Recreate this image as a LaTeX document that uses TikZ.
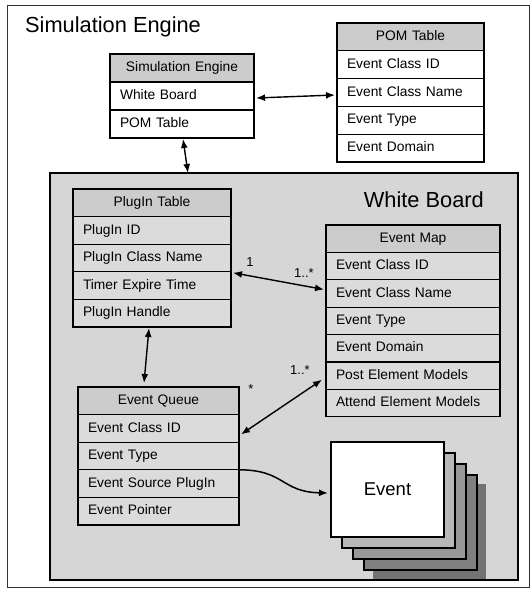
\documentclass[tikz,border=0pt]{standalone}
\usepackage{fontspec}
\setmainfont{Liberation Sans}
\usetikzlibrary{arrows.meta,calc}
\definecolor{wbfill}{gray}{0.84}
\definecolor{hdrfill}{gray}{0.80}
\definecolor{tblfill}{gray}{0.86}
\begin{document}
\begin{tikzpicture}[x=1pt,y=-1pt,
  tbl/.style={draw=black, line width=1.2pt, anchor=north west, outer sep=0pt,
    inner ysep=0pt, inner xsep=10pt, font=\fontsize{13.8}{16}\selectfont,
    text height=10pt, text depth=2.8pt},
  hdr/.style={tbl, fill=hdrfill, align=center},
  rowc/.style={tbl, fill=white, align=left},
  rowg/.style={tbl, fill=tblfill, align=left},
  sew/.style={minimum height=28pt, text width=124pt},
  pomw/.style={minimum height=27.8pt, text width=127pt},
  ptw/.style={minimum height=27.6pt, text width=138pt},
  emw/.style={minimum height=27.4pt, text width=154pt},
  eqw/.style={minimum height=27.6pt, text width=141pt},
  card/.style={draw=black, line width=1.1pt, anchor=north west, outer sep=0pt,
    minimum width=113pt, minimum height=95pt, inner sep=0pt},
  biarrow/.style={{Latex[length=9pt,width=7pt]}-{Latex[length=9pt,width=7pt]}, line width=1.4pt},
  onearrow/.style={-{Latex[length=9pt,width=7pt]}, line width=1.5pt},
  lbl/.style={font=\fontsize{13}{15}\selectfont, inner sep=0pt},
  bigtitle/.style={font=\fontsize{21.8}{26}\selectfont, inner sep=0pt}
]
\useasboundingbox (0,0) rectangle (530,590);
\node[draw=black!80, line width=0.8pt, anchor=north west, outer sep=0pt, inner sep=0pt,
  minimum width=522pt, minimum height=582pt] (frame) at (7,5) {};

\node[bigtitle, anchor=base west] (title) at (25,32) {Simulation Engine};

% Simulation Engine table
\node[hdr, sew] (se-h) at (110,54) {Simulation Engine};
\node[rowc, sew] (se-1) at (se-h.south west) {White Board};
\node[rowc, sew] (se-2) at (se-1.south west) {POM Table};

% POM table
\node[hdr, pomw] (pom-h) at (337,23) {POM Table};
\node[rowc, pomw] (pom-1) at (pom-h.south west) {Event Class ID};
\node[rowc, pomw] (pom-2) at (pom-1.south west) {Event Class Name};
\node[rowc, pomw] (pom-3) at (pom-2.south west) {Event Type};
\node[rowc, pomw] (pom-4) at (pom-3.south west) {Event Domain};

% White Board
\node[draw=black, line width=1.3pt, fill=wbfill, anchor=north west, outer sep=0pt,
  inner sep=0pt, minimum width=468pt, minimum height=407pt] (wb) at (50,173) {};
\node[bigtitle, anchor=base east] (wbtitle) at (484,207) {White Board};

% PlugIn table
\node[hdr, ptw] (pt-h) at (73,189) {PlugIn Table};
\node[rowg, ptw] (pt-1) at (pt-h.south west) {PlugIn ID};
\node[rowg, ptw] (pt-2) at (pt-1.south west) {PlugIn Class Name};
\node[rowg, ptw] (pt-3) at (pt-2.south west) {Timer Expire Time};
\node[rowg, ptw] (pt-4) at (pt-3.south west) {PlugIn Handle};

% Event Map
\node[hdr, emw] (em-h) at (326,225) {Event Map};
\node[rowg, emw] (em-1) at (em-h.south west) {Event Class ID};
\node[rowg, emw] (em-2) at (em-1.south west) {Event Class Name};
\node[rowg, emw] (em-3) at (em-2.south west) {Event Type};
\node[rowg, emw] (em-4) at (em-3.south west) {Event Domain};
\node[rowg, emw] (em-5) at (em-4.south west) {Post Element Models};
\node[rowg, emw] (em-6) at (em-5.south west) {Attend Element Models};

% Event Queue
\node[hdr, eqw] (eq-h) at (78,387) {Event Queue};
\node[rowg, eqw] (eq-1) at (eq-h.south west) {Event Class ID};
\node[rowg, eqw] (eq-2) at (eq-1.south west) {Event Type};
\node[rowg, eqw] (eq-3) at (eq-2.south west) {Event Source PlugIn};
\node[rowg, eqw] (eq-4) at (eq-3.south west) {Event Pointer};

% Event stack
\node[card, draw=none, fill=black!55] (evs) at (373,484) {};
\node[card, fill=black!50] (ev3) at (364,475) {};
\node[card, fill=black!40] (ev2) at (353,464) {};
\node[card, fill=black!28] (ev1) at (342,453) {};
\node[card, fill=white, font=\fontsize{18.5}{22}\selectfont] (ev) at (331,442) {Event};

% Connectors
\draw[biarrow] ($(se-1.east)+(2,2)$) -- ($(pom-2.west)+(-2,2.5)$);
\draw[biarrow] ($(se-2.south)+(1,1)$) -- ($(wb.north west)+(138,0)$);
\draw[biarrow] ($(pt-2.south east)+(2,1)$) -- ($(em-2.west)+(-2,-4)$);
\draw[biarrow] ($(pt-4.south)+(-3,1)$) -- ($(eq-h.north)+(-14.5,-4)$);
\draw[biarrow] ($(eq-1.east)+(2,6)$) -- ($(em-5.west)+(-4,4)$);
\draw[onearrow] (eq-2.south east) .. controls +(46,0) and +(-47,-1) .. ($(ev.west)+(-3,3.5)$);

\node[lbl] (m1) at (250,262) {1};
\node[lbl] (m2) at (304,273) {1..*};
\node[lbl] (m3) at (251,389) {*};
\node[lbl] (m4) at (300,370) {1..*};
\end{tikzpicture}
\end{document}
